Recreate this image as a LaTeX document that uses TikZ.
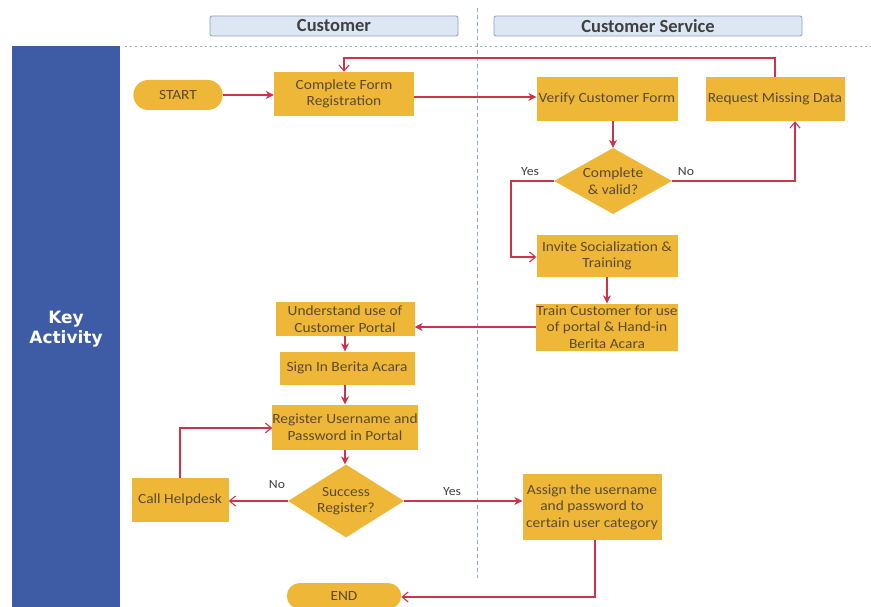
\documentclass[tikz,border=0pt]{standalone}
\usepackage{fontspec}
\setmainfont{Carlito}
\newfontfamily\nodefont[FakeStretch=1.1]{Carlito}
\newfontfamily\barfont{DejaVu Sans}
\usetikzlibrary{shapes.geometric,shapes.misc,arrows.meta}
\definecolor{gold}{HTML}{EEB738}
\definecolor{txt}{HTML}{5A4A2E}
\definecolor{flow}{HTML}{CB3449}
\definecolor{bar}{HTML}{3E5CA6}
\definecolor{hdrfill}{HTML}{DDE7F3}
\definecolor{hdrline}{HTML}{8FA2BE}
\definecolor{sep}{HTML}{9AAACC}
\tikzset{
  boxfont/.style={font=\nodefont\fontsize{14}{16.5}\selectfont},
  proc/.style={rectangle, fill=gold, text=txt, align=center, boxfont, inner sep=0pt},
  term/.style={rounded rectangle, fill=gold, text=txt, boxfont},
  decision/.style={diamond, fill=gold, text=txt, align=center, aspect=1.75, inner sep=-8pt, boxfont},
  hdr/.style={rectangle, rounded corners=2pt, fill=hdrfill, draw=hdrline, line width=0.8pt, text=black!75, font=\fontsize{18.5}{20}\selectfont\bfseries},
  link/.style={draw=flow, line width=1.1pt, -{Stealth[length=8pt,width=8pt]}},
  openlink/.style={draw=flow, line width=1.1pt, -{Straight Barb[length=6pt,width=10pt]}},
  lbl/.style={text=black!75, font=\nodefont\fontsize{12.5}{14}\selectfont},
}
\begin{document}
\begin{tikzpicture}[x=1pt,y=-1pt]
\useasboundingbox (0,0) rectangle (871,607);
\fill[white] (0,0) rectangle (871,607);

% lane headers and separators
\node[hdr, minimum width=248pt, minimum height=20pt] (hcust) at (334,26) {Customer};
\node[hdr, minimum width=308pt, minimum height=20pt] (hcs) at (648,26) {Customer Service};
\draw[sep, line width=0.8pt, dash pattern=on 2pt off 3pt] (125,46) -- (871,46);
\draw[sep, line width=0.8pt, dash pattern=on 4pt off 3pt] (477,8) -- (477,578);

% side bar
\fill[bar] (12,46) rectangle (120,607);
\node[text=white, align=center, font=\barfont\fontsize{17}{20}\selectfont\bfseries] (side) at (66,329) {Key\\Activity};

% nodes
\node[term, minimum width=96pt, minimum height=30pt] (start) at (178,95) {START};
\node[proc, minimum width=140pt, minimum height=44pt] (cfr) at (344,94) {Complete Form\\Registration};
\node[proc, minimum width=141pt, minimum height=44pt] (verify) at (607,99) {Verify Customer Form};
\node[proc, minimum width=139pt, minimum height=44pt] (req) at (775,99) {Request Missing Data};
\node[decision, minimum width=118pt, minimum height=66pt] (valid) at (613,181) {Complete\\\& valid?};
\node[proc, minimum width=141pt, minimum height=42pt] (invite) at (607,256) {Invite Socialization \&\\Training};
\node[proc, minimum width=140pt, minimum height=47pt] (train) at (607,327) {Train Customer for use\\of portal \& Hand-in\\Berita Acara};
\node[proc, minimum width=139pt, minimum height=34pt] (under) at (345,319) {Understand use of\\Customer Portal};
\node[proc, minimum width=135pt, minimum height=33pt] (sign) at (347,368) {Sign In Berita Acara};
\node[proc, minimum width=140pt, minimum height=45pt] (regist) at (345,427) {Register Username and\\Password in Portal};
\node[decision, minimum width=116pt, minimum height=73pt] (succ) at (346,501) {Success\\Register?};
\node[proc, minimum width=97pt, minimum height=44pt] (help) at (180,500) {Call Helpdesk};
\node[proc, minimum width=139pt, minimum height=66pt] (assign) at (592,507) {Assign the username\\and password to\\certain user category};
\node[term, minimum width=121pt, minimum height=26pt] (endn) at (344,596) {END};

% connectors
\draw[link] (start.east) -- (cfr.west |- start.east);
\draw[link] (cfr.east |- 0,97) -- (verify.west |- 0,97);
\draw[openlink] (req.north) -- (req.north |- 0,58) -- (cfr.north |- 0,58) -- (cfr.north);
\draw[link] (valid.north |- verify.south) -- (valid.north);
\draw[openlink] (valid.west) -- (511,181) -- (511,257) -- (invite.west |- 0,257);
\node[lbl] (yes1) at (530,172) {Yes};
\draw[openlink] (valid.east) -- (795,181) -- (req.south -| 795,0);
\node[lbl] (no1) at (686,172) {No};
\draw[link] (invite.south) -- (train.north);
\draw[link] (train.west) -- (under.east |- train.west);
\draw[link] (under.south) -- (sign.north -| under.south);
\draw[link] (sign.south -| regist.north) -- (regist.north);
\draw[link] (regist.south) -- (succ.north -| regist.south);
\draw[openlink] (succ.west) -- (help.east |- succ.west);
\node[lbl] (no2) at (277,485) {No};
\draw[openlink] (help.north) -- (help.north |- 0,428) -- (regist.west |- 0,428);
\draw[link] (succ.east) -- (assign.west |- succ.east);
\node[lbl] (yes2) at (452,492) {Yes};
\draw[openlink] (assign.south -| 595,0) -- (595,597) -- (endn.east |- 0,597);
\end{tikzpicture}
\end{document}
